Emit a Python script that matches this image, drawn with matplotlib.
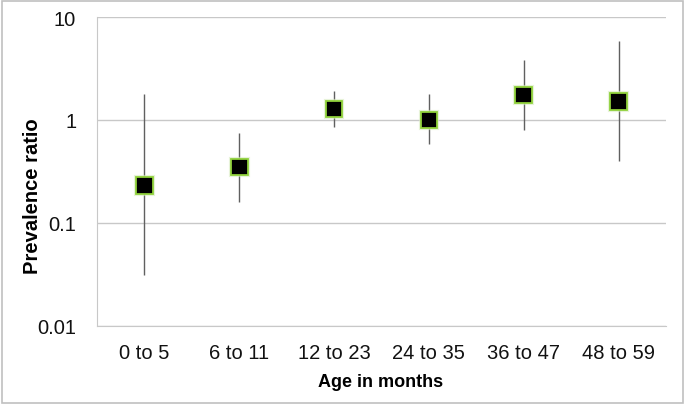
import matplotlib
matplotlib.use("Agg")
import matplotlib.pyplot as plt
import matplotlib.patheffects as pe
import numpy as np

# ── data ──────────────────────────────────────────────────────────────────────
age_groups = ["0 to 5", "6 to 11", "12 to 23", "24 to 35", "36 to 47", "48 to 59"]
ratio      = [0.23, 0.35, 1.28, 1.00, 1.75, 1.52]
ci_low     = [0.031, 0.16, 0.86, 0.58, 0.80, 0.40]
ci_high    = [1.80, 0.75, 1.92, 1.79, 3.85, 5.90]
y_ticks    = [0.01, 0.1, 1, 10]
y_labels   = ["0.01", "0.1", "1", "10"]

GRID = "#c8c8c8"
SANS = ["Liberation Sans", "DejaVu Sans"]

fig = plt.figure(figsize=(6.85, 4.06), dpi=100)
ax = fig.add_axes([97 / 685, 1 - 327 / 406, 569 / 685, 309 / 406])

x = np.arange(len(age_groups))
ax.vlines(x, ci_low, ci_high, color="#606060", linewidth=1.0, zorder=2)
ax.plot(x, ratio, "s", markersize=12, markerfacecolor="black",
        markeredgecolor="#8fd13a", markeredgewidth=1.3, linestyle="none", zorder=3,
        path_effects=[pe.withStroke(linewidth=3, foreground="#d8ecc0", alpha=0.6)])

ax.set_yscale("log")
ax.set_ylim(0.01, 10)
ax.set_xlim(-0.5, len(age_groups) - 0.5)
ax.set_yticks(y_ticks)
ax.set_yticklabels(y_labels, family=SANS, fontsize=14.5)
ax.minorticks_off()
ax.yaxis.grid(True, color=GRID, linewidth=1.0)
ax.set_axisbelow(True)

ax.set_xticks(x)
ax.set_xticklabels(age_groups, family=SANS, fontsize=14.5)
ax.tick_params(length=0, colors="#111111")
ax.tick_params(axis="x", pad=12)
ax.tick_params(axis="y", pad=15)

for side in ["top", "right"]:
    ax.spines[side].set_visible(False)
ax.spines["left"].set_color(GRID)
ax.spines["bottom"].set_color(GRID)

# axis titles
fig.text(33 / 685, 1 - 196 / 406, "Prevalence ratio", rotation=90,
         ha="center", va="center", fontsize=14.5, fontweight="bold", family=SANS)
fig.text(381 / 685, 1 - 383 / 406, "Age in months", ha="center", va="center",
         fontsize=13, fontweight="bold", family=SANS)

# thin frame around the whole figure
fig.patches.append(plt.Rectangle((0.003, 0.004), 0.994, 0.992, transform=fig.transFigure,
                                 fill=False, edgecolor="#c0c0c0", linewidth=1.2))

fig.savefig("out.png", dpi=100)
